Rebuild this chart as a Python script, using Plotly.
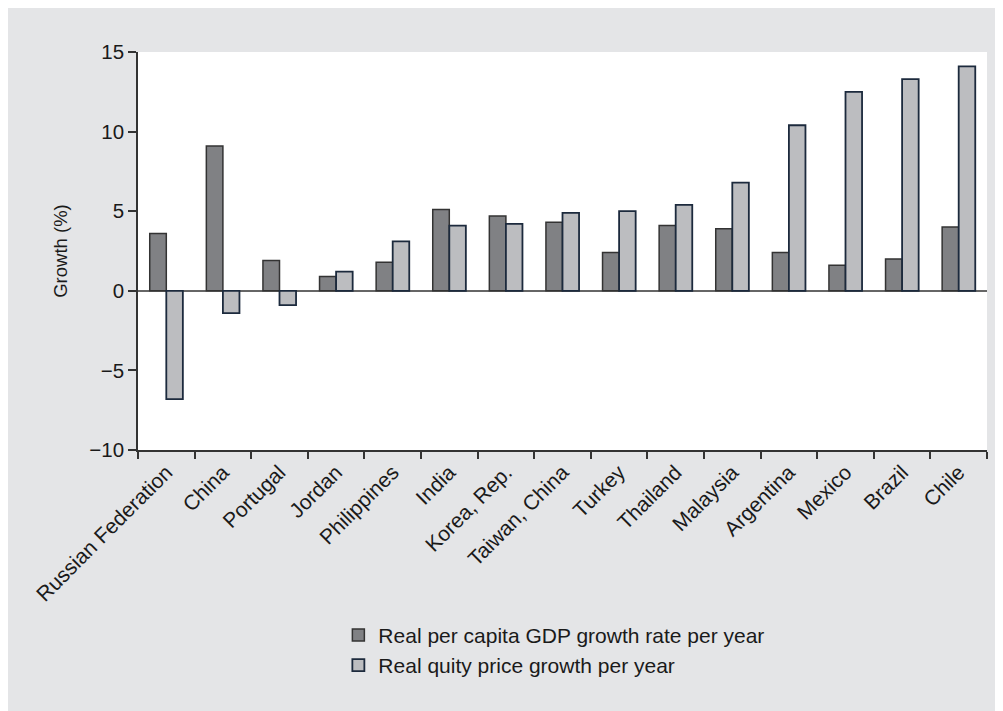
import plotly.graph_objects as go

countries = ["Russian Federation", "China", "Portugal", "Jordan", "Philippines", "India",
             "Korea, Rep.", "Taiwan, China", "Turkey", "Thailand", "Malaysia", "Argentina",
             "Mexico", "Brazil", "Chile"]
gdp_growth = [3.6, 9.1, 1.9, 0.9, 1.8, 5.1, 4.7, 4.3, 2.4, 4.1, 3.9, 2.4, 1.6, 2.0, 4.0]
equity_growth = [-6.8, -1.4, -0.9, 1.2, 3.1, 4.1, 4.2, 4.9, 5.0, 5.4, 6.8, 10.4, 12.5, 13.3, 14.1]

BG = "#e4e5e7"
FONT = "Liberation Sans, Arial, sans-serif"

fig = go.Figure()
fig.add_trace(go.Bar(
    x=countries, y=gdp_growth, name="Real per capita GDP growth rate per year",
    marker=dict(color="#808184", line=dict(color="#333333", width=1.5)),
))
fig.add_trace(go.Bar(
    x=countries, y=equity_growth, name="Real quity price growth per year",
    marker=dict(color="#bcbdc0", line=dict(color="#1c2a3d", width=1.8)),
))

fig.update_layout(
    width=995, height=703,
    paper_bgcolor=BG, plot_bgcolor="white",
    margin=dict(l=130, r=16, t=44, b=261, autoexpand=False),
    barmode="group", bargap=0.415, bargroupgap=0,
    font=dict(family=FONT, size=20, color="#1a1a1a"),
    showlegend=True,
    legend=dict(
        x=0.236, y=-0.414,
        xanchor="left", yanchor="top", bgcolor="rgba(0,0,0,0)",
        font=dict(size=21), tracegroupgap=0,
    ),
)
fig.update_xaxes(
    tickangle=-45, tickson="boundaries", ticks="outside", ticklen=7, tickwidth=1.5,
    tickcolor="#333333", showline=True, linecolor="#333333", linewidth=1.5,
    tickfont=dict(size=21), showgrid=False, automargin=False,
)
fig.update_yaxes(
    range=[-10, 15], dtick=5, ticks="outside", ticklen=8, tickwidth=1.5,
    tickcolor="#333333", showline=True, linecolor="#333333", linewidth=1.5,
    showgrid=False, zeroline=True, zerolinecolor="#666666", zerolinewidth=1.5,
    tickfont=dict(size=20.5), automargin=False,
    title=dict(text="Growth (%)", font=dict(size=18.5), standoff=17),
)

fig.write_html("out.html")
